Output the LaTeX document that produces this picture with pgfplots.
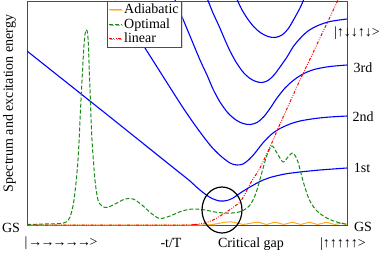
\documentclass[border=0pt]{standalone}
\usepackage{fontspec}
\setmainfont{Liberation Serif}
\usepackage{pgfplots}
\pgfplotsset{compat=1.18}
\usetikzlibrary{shadows}
\newcommand\f{\fontsize{14}{15}\selectfont}
\definecolor{myorange}{RGB}{255,170,30}
\definecolor{mygreen}{RGB}{20,140,20}
\begin{document}
\begin{tikzpicture}
\begin{axis}[
  width=320pt, height=224pt, scale only axis,
  xmin=27, xmax=347, ymin=0, ymax=224,
  xtick=\empty, ytick=\empty,
  axis line style={gray!60!black, line width=0.8pt},
  clip mode=individual,
  legend style={at={(axis cs:107,224)}, anchor=north west, draw=gray!60!black,
    font=\f, inner sep=1pt, row sep=-1pt, cells={anchor=west},
    drop shadow={shadow xshift=1pt, shadow yshift=-1pt, fill=gray!60}},
  legend image code/.code={\draw[#1] (0pt,0pt) -- (13pt,0pt);},
]
% blue spectrum
\addplot[blue, line width=1.1pt, smooth, forget plot] coordinates {
(27,174)(100,116)(150,76)(180,52)(190,44)(197,37.5)(205,31)(212,26.5)(220,24)(227,24.5)(233,27)(241,32.5)(250,38)(260,43.5)(270,47.5)(285,51)(300,53)(320,55)(347,57)};
\addplot[blue, line width=1.1pt, smooth, forget plot] coordinates {
(115,224)(145,177)(178,125)(190,107)(200,93)(210,80)(218,71.5)(225,65.5)(231,61.5)(237,60)(243,61)(249,65.5)(255,72)(262,81)(268,87.5)(273,92)(280,96.5)(290,101)(300,104)(315,106.5)(330,108)(347,109)};
\addplot[blue, line width=1.1pt, smooth, forget plot] coordinates {
(175,225)(190,189)(200,165)(207,150)(213,136)(220,123)(228,112)(236,105)(243,101.5)(250,100.5)(257,102.5)(264,108.5)(271,118)(277,127)(285,137)(292,143.5)(298,148)(306,152.5)(316,156)(330,158.5)(347,160)};
\addplot[blue, line width=1.1pt, smooth, forget plot] coordinates {
(207,227)(213,212)(219,199)(225,185)(230,174)(236,163)(243,153)(250,146.5)(256,143.5)(262,142.5)(268,144.5)(274,150)(280,158)(287,168)(293,178)(300,186.5)(308,194)(318,199.5)(330,203.5)(347,206)};
\addplot[blue, line width=1.1pt, smooth, forget plot] coordinates {
(236,228)(241,217)(247,207)(254,198)(261,192)(268,188.5)(275,187.5)(282,190)(288,196)(294,206)(300,217)(304,226)};
% adiabatic
\addplot[myorange, line width=1pt, smooth] coordinates {
(27,0)(200,0)(210,0.3)(218,1.5)(225,2.8)(232,3)(238,1.8)(243,0.6)(250,1.6)(258,2.8)(266,0.6)(275,2.7)(284,0.6)(292,2.7)(301,0.6)(309,2.7)(318,0.6)(326,2.7)(335,0.6)(342,2)(347,0.5)};
\addlegendentry{Adiabatic}
% optimal
\addplot[mygreen, line width=1pt, dash pattern=on 4pt off 2pt, smooth] coordinates {
(27,0.5)(45,1)(60,1.5)(66,3)(70,8)(74,25)(78,65)(81,125)(84,180)(86,195)(88,187)(90,135)(92,85)(95,45)(98,25)(102,19)(107,17.5)(115,21)(125,26)(133,26)(142,20)(152,11)(160,6.5)(170,9)(182,14)(193,16)(205,15)(218,12.5)(232,12)(242,14)(250,20)(256,32)(262,53)(267,70)(272,79)(277,72)(283,63)(288,68)(293,72)(298,63)(303,44)(309,26)(316,15)(325,8)(335,3.5)(347,0.5)};
\addlegendentry{Optimal}
% linear
\addplot[red, line width=1pt, dash pattern=on 3pt off 1.5pt on 0.8pt off 1.5pt on 0.8pt off 1.5pt, smooth] coordinates {
(27,0)(185,0)(195,0.5)(205,2)(213,5)(220,9)(228,14)(235,19)(240,23)(245,31)(250,41)(255,49)(260,57)(270,78)(280,101)(290,123)(300,145)(310,166)(320,187)(330,208)(338,225)};
\addlegendentry{linear}
% critical gap circle
\draw[black, line width=1.2pt] (axis cs:222,15) ellipse [x radius=20, y radius=23];
% labels
\node[font=\f, anchor=base, rotate=90] at (axis cs:13,121.5) {Spectrum and excitation energy};
\node[font=\f, anchor=base] at (axis cs:11,-7) {GS};
\node[font=\f, anchor=base] at (axis cs:363,-6) {GS};
\node[font=\f, anchor=base] at (axis cs:362,53) {1st};
\node[font=\f, anchor=base] at (axis cs:363,104) {2nd};
\node[font=\f, anchor=base] at (axis cs:363,153) {3rd};
\node[font=\f, anchor=base] at (axis cs:357,188) {|↑↓↓↑↓>};
\node[font=\f, anchor=base] at (axis cs:61,-21) {|\kern1pt→\kern-1.8pt→\kern-1.8pt→\kern-1.8pt→\kern-1.8pt→\kern-1.5pt>};
\node[font=\f, anchor=base] at (axis cs:171,-22) {-t/T};
\node[font=\f, anchor=base] at (axis cs:251,-22) {Critical gap};
\node[font=\f, anchor=base] at (axis cs:343,-22) {|↑↑↑↑↑>};
\end{axis}
\pgfresetboundingbox
\path (-27pt,-27pt) rectangle (355pt,225pt);
\end{tikzpicture}
\end{document}
